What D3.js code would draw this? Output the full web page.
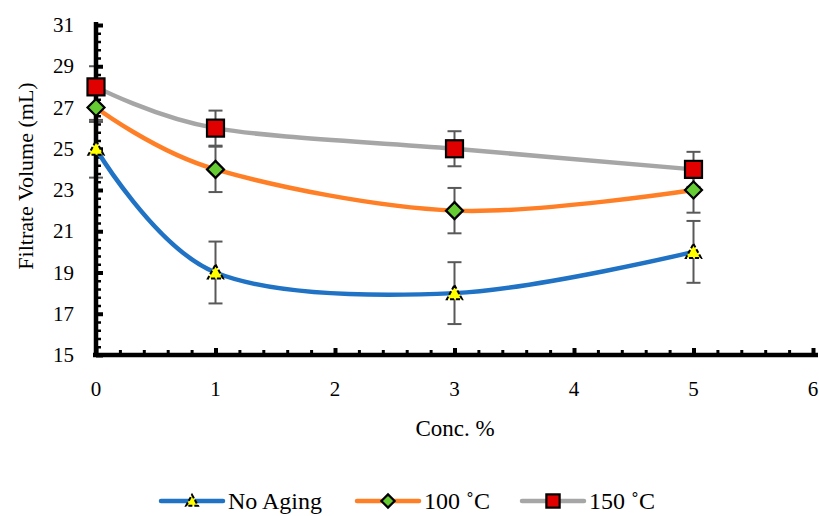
<!DOCTYPE html>
<html>
<head>
<meta charset="utf-8">
<script src="https://cdn.jsdelivr.net/npm/d3@7"></script>
</head>
<body style="margin:0">
<svg id="chart" width="819" height="516" style="display:block;background:#fff"></svg>
<script>
// ---- data ----
const concentrations = [0, 1, 3, 5];
const noAging = [25, 19, 18, 20];
const noAgingErr = [1.4, 1.5, 1.5, 1.5];
const aged100 = [27, 24, 22, 23];
const aged100Err = [0.7, 1.1, 1.1, 1.1];
const aged150 = [28, 26, 25, 24];
const aged150Err = [1.0, 0.85, 0.85, 0.85];
const seriesNames = ["No Aging", "100 ˚C", "150 ˚C"];
const xTicks = [0, 1, 2, 3, 4, 5, 6];
const yTicks = [15, 17, 19, 21, 23, 25, 27, 29, 31];
const xTitle = "Conc. %";
const yTitle = "Filtrate Volume (mL)";

const series = [
  { name: seriesNames[0], values: noAging, err: noAgingErr, color: "#1f72c4", marker: "triangle", fill: "#ffff00" },
  { name: seriesNames[1], values: aged100, err: aged100Err, color: "#ff7f27", marker: "diamond", fill: "#66cc33" },
  { name: seriesNames[2], values: aged150, err: aged150Err, color: "#a6a6a6", marker: "square", fill: "#e00000" }
];

const svg = d3.select("#chart");
const x = d3.scaleLinear().domain([0, 6]).range([96, 813]);
const y = d3.scaleLinear().domain([15, 31]).range([355, 25]);

// ---- error bars (under the axes) ----
const errG = svg.append("g");
series.forEach(s => {
  concentrations.forEach((c, i) => {
    const cx = x(c), top = y(s.values[i] + s.err[i]), bot = y(s.values[i] - s.err[i]);
    errG.append("line").attr("x1", cx).attr("x2", cx).attr("y1", top).attr("y2", bot)
      .attr("stroke", "#595959").attr("stroke-width", 2);
    [top, bot].forEach(yy => errG.append("line").attr("x1", cx - 7).attr("x2", cx + 7)
      .attr("y1", yy).attr("y2", yy).attr("stroke", "#595959").attr("stroke-width", 2));
  });
});

// ---- axes (ticks only; labels drawn as plain texts below) ----
const axisColor = "#000";
const gxMinor = svg.append("g").attr("transform", `translate(0,${y(15)})`)
  .call(d3.axisBottom(x).tickValues(d3.range(0, 6.001, 0.2)).tickSize(-5).tickFormat(""));
gxMinor.select(".domain").remove();
gxMinor.selectAll(".tick line").attr("stroke", axisColor).attr("stroke-width", 3);
const gyMinor = svg.append("g").attr("transform", `translate(${x(0)},0)`)
  .call(d3.axisLeft(y).tickValues(d3.range(15, 31.001, 0.4)).tickSize(-5).tickFormat(""));
gyMinor.select(".domain").remove();
gyMinor.selectAll(".tick line").attr("stroke", axisColor).attr("stroke-width", 2.5);

const gx = svg.append("g").attr("transform", `translate(0,${y(15)})`)
  .call(d3.axisBottom(x).tickValues(xTicks).tickSize(-7).tickSizeOuter(0).tickFormat(""));
gx.select(".domain").attr("d", `M${x(0) - 3},0H818`).attr("stroke", axisColor).attr("stroke-width", 4.5);
gx.selectAll(".tick line").attr("stroke", axisColor).attr("stroke-width", 4);

const gy = svg.append("g").attr("transform", `translate(${x(0)},0)`)
  .call(d3.axisLeft(y).tickValues(yTicks).tickSize(-7).tickSizeOuter(0).tickFormat(""));
gy.select(".domain").attr("d", `M0,${y(31) - 3}V${y(15) + 2}`).attr("stroke", axisColor).attr("stroke-width", 4.5);
gy.selectAll(".tick line").attr("stroke", axisColor).attr("stroke-width", 4);

// tick labels
xTicks.forEach(t => {
  svg.append("text").attr("x", x(t)).attr("y", y(15) + 41).style("font-family", '"Liberation Serif"')
    .attr("font-size", 21).attr("text-anchor", "middle").text(d3.format("d")(t));
});
yTicks.forEach(t => {
  svg.append("text").attr("x", x(0) - 22).attr("y", y(t) + 7).style("font-family", '"Liberation Serif"')
    .attr("font-size", 21).attr("text-anchor", "end").text(d3.format("d")(t));
});

// titles
svg.append("text").attr("x", 455).attr("y", 436).style("font-family", '"Liberation Serif"')
  .attr("font-size", 23).attr("text-anchor", "middle").text(xTitle);
svg.append("text").attr("transform", `translate(33,176) rotate(-90)`).style("font-family", '"Liberation Serif"')
  .attr("font-size", 22).attr("text-anchor", "middle").text(yTitle);

// ---- lines ----
const line = d3.line().x(d => x(d[0])).y(d => y(d[1])).curve(d3.curveCatmullRom.alpha(0));
series.forEach(s => {
  svg.append("path").datum(concentrations.map((c, i) => [c, s.values[i]]))
    .attr("d", line).attr("fill", "none").attr("stroke", s.color).attr("stroke-width", 4.5)
    .attr("stroke-linecap", "round");
});

// ---- markers ----
function drawMarker(g, type, cx, cy, fill, scale) {
  scale = scale || 1;
  if (type === "square") {
    const h = 8.5 * scale;
    g.append("rect").attr("x", cx - h).attr("y", cy - h).attr("width", 2 * h).attr("height", 2 * h)
      .attr("fill", fill).attr("stroke", "#000").attr("stroke-width", 2.2);
  } else if (type === "diamond") {
    const h = 8.5 * scale;
    g.append("path").attr("d", `M${cx},${cy - h}L${cx + h},${cy}L${cx},${cy + h}L${cx - h},${cy}Z`)
      .attr("fill", fill).attr("stroke", "#000").attr("stroke-width", 2.2);
  } else {
    const h = 8 * scale;
    g.append("path").attr("d", `M${cx},${cy - h}L${cx + h * 0.95},${cy + h * 0.75}L${cx - h * 0.95},${cy + h * 0.75}Z`)
      .attr("fill", fill).attr("stroke", "#000").attr("stroke-width", 2).attr("stroke-dasharray", "4,2");
  }
}
const mg = svg.append("g");
series.forEach(s => {
  concentrations.forEach((c, i) => drawMarker(mg, s.marker, x(c), y(s.values[i]), s.fill));
});

// ---- legend ----
const legendX = [161, 357, 522];
series.forEach((s, i) => {
  const lx = legendX[i], ly = 501;
  svg.append("line").attr("x1", lx).attr("x2", lx + 62).attr("y1", ly).attr("y2", ly)
    .attr("stroke", s.color).attr("stroke-width", 4.5).attr("stroke-linecap", "round");
  drawMarker(svg, s.marker, lx + 31, ly, s.fill, 0.78);
  svg.append("text").attr("x", lx + 67).attr("y", 509).style("font-family", '"Liberation Serif"')
    .attr("font-size", 24).text(s.name);
});
</script>
</body>
</html>
